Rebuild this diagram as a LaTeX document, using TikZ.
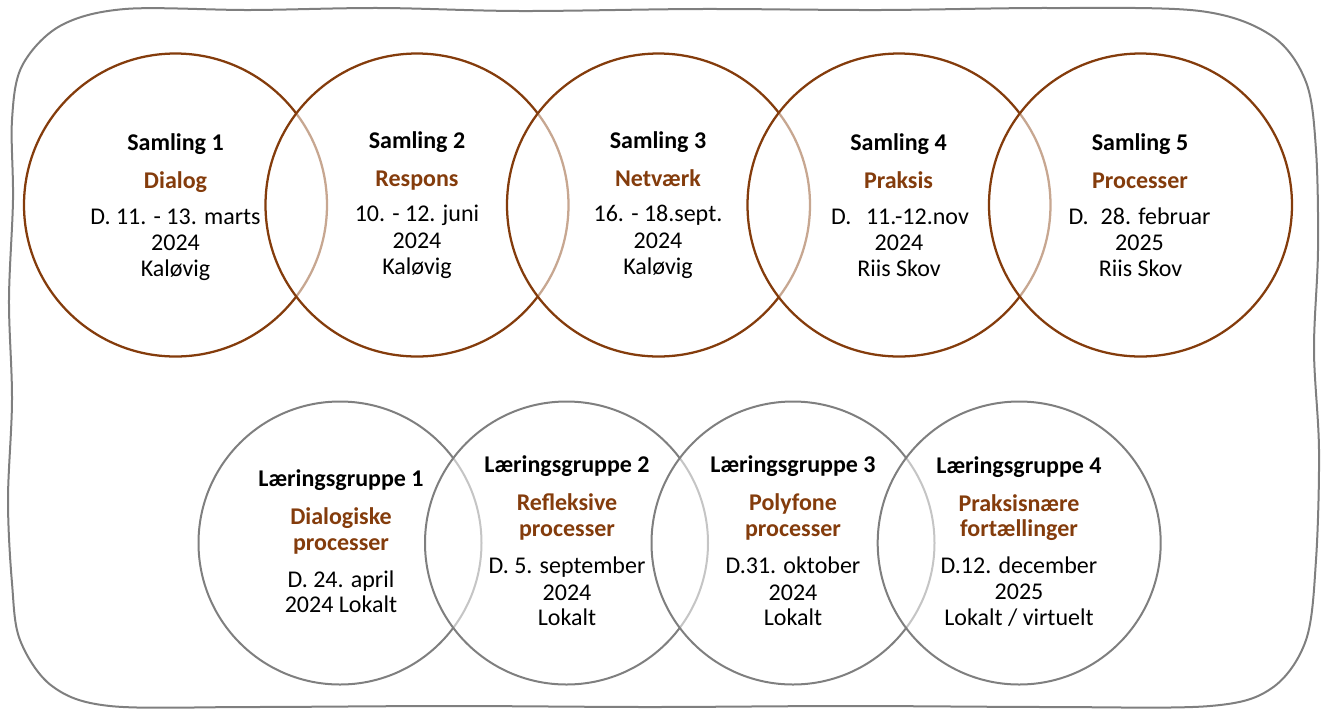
\documentclass[tikz,border=0pt]{standalone}
\usepackage{fontspec}
\setmainfont{Carlito}
\definecolor{brn}{HTML}{843C0C}
\definecolor{gry}{HTML}{7F7F7F}
\tikzset{
  topc/.style={circle, draw=brn, line width=1.7pt, fill=white, fill opacity=0.55, minimum size=227.25pt, inner sep=0pt},
  botc/.style={circle, draw=gry, line width=1.5pt, fill=white, fill opacity=0.55, minimum size=212.25pt, inner sep=0pt},
  ttl/.style={anchor=base, inner sep=0pt, font=\fontsize{18}{21}\selectfont\bfseries},
  sub/.style={anchor=base, inner sep=0pt, text=brn, font=\fontsize{18}{21}\selectfont\bfseries},
  txt/.style={anchor=base, inner sep=0pt, font=\fontsize{18}{21}\selectfont},
  border/.style={draw=gry, line width=1.5pt}
}
\begin{document}
\begin{tikzpicture}[x=0.75pt,y=-0.75pt]
\useasboundingbox (0,0) rectangle (1322,708);
% wavy frame
\draw[border] plot[smooth cycle, tension=0.55] coordinates {
 (125,9) (250,10) (380,8) (520,11) (700,9) (880,10) (1050,8) (1200,11)
 (1272,36) (1306,82) (1316,150)
 (1318,250) (1314,350) (1319,450) (1316,560)
 (1306,640) (1272,688) (1210,706)
 (1050,707) (850,706) (650,707) (450,706) (250,707) (110,706)
 (52,686) (20,640) (12,583)
 (8,500) (12,400) (9,300) (13,200) (12,120)
 (22,66) (60,26)};
% top circles
\node[topc] (c1) at (175.5,205) {};
\node[topc] (c2) at (417,205) {};
\node[topc] (c3) at (658.5,205) {};
\node[topc] (c4) at (899,205) {};
\node[topc] (c5) at (1140.5,205) {};
% bottom circles
\node[botc] (g1) at (340,543) {};
\node[botc] (g2) at (566.5,543) {};
\node[botc] (g3) at (793,543) {};
\node[botc] (g4) at (1019.2,543) {};
% Samling 1
\node[ttl] (s1a) at (175.5,150.5) {Samling 1};
\node[sub] (s1b) at (175.5,188) {Dialog};
\node[txt] (s1c) at (175.5,224) {D. 11. - 13. marts};
\node[txt] (s1d) at (175.5,250.5) {2024};
\node[txt] (s1e) at (175.5,276.5) {Kaløvig};
% Samling 2
\node[ttl] (s2a) at (417,148.5) {Samling 2};
\node[sub] (s2b) at (417,186) {Respons};
\node[txt] (s2c) at (417,221.5) {10. - 12. juni};
\node[txt] (s2d) at (417,248) {2024};
\node[txt] (s2e) at (417,274.5) {Kaløvig};
% Samling 3
\node[ttl] (s3a) at (658,148.5) {Samling 3};
\node[sub] (s3b) at (658,186) {Netværk};
\node[txt] (s3c) at (658,221.5) {16. - 18.sept.};
\node[txt] (s3d) at (658,248) {2024};
\node[txt] (s3e) at (658,274.5) {Kaløvig};
% Samling 4
\node[ttl] (s4a) at (898.5,150.5) {Samling 4};
\node[sub] (s4b) at (898.5,188) {Praksis};
\node[txt] (s4c) at (900,224) {D.\hspace{11pt}11.-12.nov};
\node[txt] (s4d) at (899,250.5) {2024};
\node[txt] (s4e) at (899,276.5) {Riis Skov};
% Samling 5
\node[ttl] (s5a) at (1140,150.5) {Samling 5};
\node[sub] (s5b) at (1140,188) {Processer};
\node[txt] (s5c) at (1139.5,224) {D.\hspace{9pt}28. februar};
\node[txt] (s5d) at (1139.5,250.5) {2025};
\node[txt] (s5e) at (1140.5,276.5) {Riis Skov};
% Laeringsgruppe 1
\node[ttl] (l1a) at (341,486.7) {Læringsgruppe 1};
\node[sub] (l1b) at (341,524) {Dialogiske};
\node[sub] (l1c) at (341,550) {processer};
\node[txt] (l1d) at (341,587.3) {D. 24. april};
\node[txt] (l1e) at (341,612.7) {2024 Lokalt};
% Laeringsgruppe 2
\node[ttl] (l2a) at (567,472.7) {Læringsgruppe 2};
\node[sub] (l2b) at (567,510) {Refleksive};
\node[sub] (l2c) at (567,536) {processer};
\node[txt] (l2d) at (567,573.3) {D. 5. september};
\node[txt] (l2e) at (567,600) {2024};
\node[txt] (l2f) at (567,625) {Lokalt};
% Laeringsgruppe 3
\node[ttl] (l3a) at (793,472.7) {Læringsgruppe 3};
\node[sub] (l3b) at (793,510) {Polyfone};
\node[sub] (l3c) at (793,536) {processer};
\node[txt] (l3d) at (793,573.3) {D.31. oktober};
\node[txt] (l3e) at (793,600) {2024};
\node[txt] (l3f) at (793,625) {Lokalt};
% Laeringsgruppe 4
\node[ttl] (l4a) at (1019,473.3) {Læringsgruppe 4};
\node[sub] (l4b) at (1019,511.7) {Praksisnære};
\node[sub] (l4c) at (1019,536) {fortællinger};
\node[txt] (l4d) at (1019,573.3) {D.12. december};
\node[txt] (l4e) at (1019,599.3) {2025};
\node[txt] (l4f) at (1019,625) {Lokalt / virtuelt};
\end{tikzpicture}
\end{document}
